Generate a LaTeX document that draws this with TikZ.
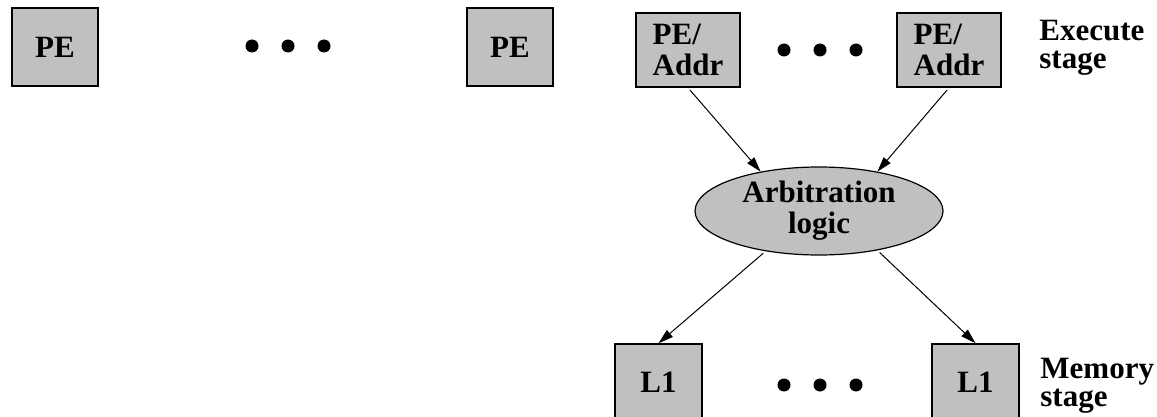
\documentclass[tikz,border=0pt]{standalone}
\usepackage{fontspec}
\setmainfont{Liberation Serif}
\usetikzlibrary{shapes.geometric,arrows.meta}
\definecolor{boxgray}{RGB}{192,192,192}
\begin{document}
\begin{tikzpicture}[x=0.5pt,y=-0.5pt,
  txt/.style={font=\bfseries\fontsize{15.5}{15.5}\selectfont,align=left,inner sep=0pt},
  box/.style={txt,draw=black,line width=0.75pt,fill=boxgray},
  pebox/.style={box,minimum width=43pt,minimum height=39pt},
  addrbox/.style={box,minimum width=52pt,minimum height=37pt},
  lbox/.style={box,minimum width=43.5pt,minimum height=38pt},
  arbell/.style={txt,align=center,ellipse,draw=black,line width=0.6pt,fill=boxgray,minimum width=124pt,minimum height=44pt},
  lbl/.style={txt,font=\bfseries\fontsize{15.5}{14}\selectfont},
  conn/.style={line width=0.5pt,-{Triangle[length=7.5pt,width=4.5pt]},shorten <=1.5pt},
  dot/.style={fill=black}]
\useasboundingbox (0,0) rectangle (1157,417);
% execute stage
\node[pebox] (pe1) at (55,47) {PE};
\node[pebox] (pe2) at (510,47) {PE};
\node[addrbox] (pa1) at (688,50) {PE/\\Addr};
\node[addrbox] (pa2) at (949,50) {PE/\\Addr};
\node[lbl,anchor=base west] (exe) at (1039,69) {Execute\\stage};
% arbitration
\node[arbell] (arb) at (819,211) {Arbitration\\logic};
% memory stage
\node[lbox] (l1a) at (658.5,382) {L1};
\node[lbox] (l1b) at (975.5,382) {L1};
\node[lbl,anchor=base west] (mem) at (1040,406) {Memory\\stage};
% dots
\foreach \x in {252,288,324} \fill[dot] (\x,46) circle[radius=3.25pt];
\foreach \x in {784,820,856} \fill[dot] (\x,50) circle[radius=3.25pt];
\foreach \x in {784,820,856} \fill[dot] (\x,385) circle[radius=3.25pt];
% connectors
\draw[conn] (pa1.south) -- (arb.146);
\draw[conn] (pa2.south) -- (arb.34);
\draw[conn] (arb.217) -- (l1a.north);
\draw[conn] (arb.326) -- (l1b.north);
\end{tikzpicture}
\end{document}
